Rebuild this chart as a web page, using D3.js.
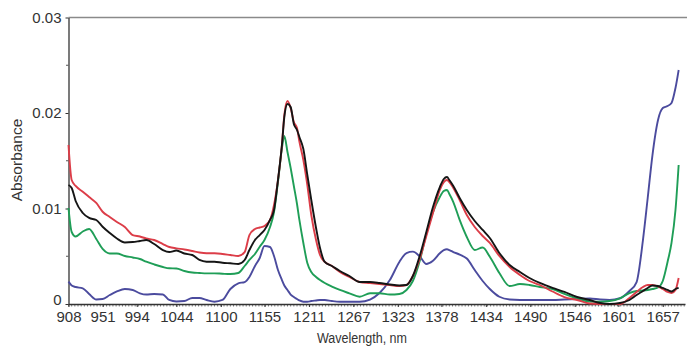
<!DOCTYPE html>
<html>
<head>
<meta charset="utf-8">
<script src="https://cdn.jsdelivr.net/npm/d3@7"></script>
<style>
  html, body { margin: 0; padding: 0; background: #fff; }
  svg { display: block; }
  text { font-family: "Liberation Sans", Arial, sans-serif; fill: #333; }
</style>
</head>
<body>
<svg id="chart" width="687" height="350"></svg>
<script>
// Wavelength (nm) sample points
const wavelengths = [908,912,917,926,934,943,951,960,969,979,989,998,1006,1016,1027,1035,1044,1054,1064,1073,1082,1092,1102,1112,1122,1130,1136,1143,1149,1155,1162,1167,1172,1177,1180,1184,1188,1192,1196,1199,1204,1209,1214,1220,1225,1231,1240,1250,1262,1275,1288,1300,1313,1325,1334,1342,1351,1359,1367,1376,1381,1385,1388,1393,1401,1410,1420,1430,1439,1451,1464,1477,1489,1502,1518,1533,1549,1565,1578,1590,1603,1615,1624,1632,1638,1644,1651,1657,1663,1668,1673,1677];

// Absorbance series (x 0.001)
const redValues = [16.65,12.98,12.36,11.76,11.20,10.58,9.66,9.11,8.59,8.06,7.22,7.07,6.86,6.70,6.28,5.97,5.83,5.71,5.55,5.39,5.31,5.31,5.24,5.13,5.03,5.44,7.22,7.85,8.01,8.17,8.80,10.37,12.98,16.65,19.79,21.26,20.52,19.06,18.43,17.00,15.08,12.46,9.32,6.70,5.13,4.40,3.98,3.35,2.83,2.30,2.20,2.09,1.99,1.88,1.99,2.93,4.82,7.12,9.42,11.94,12.77,12.98,12.77,12.15,10.89,9.32,8.06,7.12,6.39,5.03,3.87,3.04,2.41,1.99,1.31,0.73,0.42,0.05,0,0,0,0.63,1.26,1.78,1.99,1.99,1.83,1.57,1.26,1.15,1.47,2.72];
const blackValues = [12.46,12.15,10.79,9.53,9.01,8.80,8.09,7.43,6.86,6.44,6.49,6.60,6.70,6.28,5.65,5.44,5.60,5.29,5.13,4.61,4.43,4.43,4.32,4.26,4.19,4.61,5.65,6.70,7.22,7.75,8.80,9.84,12.98,16.65,19.58,20.94,20.63,18.85,18.22,17.49,16.23,13.51,10.89,7.96,5.86,4.40,3.98,3.46,2.93,2.30,2.30,2.20,2.04,1.94,1.99,2.93,5.13,7.54,10.05,12.25,13.09,13.30,12.98,12.36,11.10,9.84,8.69,7.75,6.91,5.34,4.08,3.35,2.72,2.20,1.68,1.26,0.73,0.42,0.10,0,0.10,0.42,0.94,1.36,1.68,1.94,1.88,1.68,1.47,1.31,1.57,1.68];
const greenValues = [10.05,7.54,7.07,7.59,7.85,6.81,5.76,5.29,5.29,5.03,4.87,4.71,4.43,4.14,3.87,3.74,3.72,3.46,3.30,3.25,3.21,3.21,3.17,3.14,3.25,3.98,4.61,5.24,6.00,6.70,8.06,9.63,12.77,16.33,17.59,15.92,14.24,12.36,10.47,8.80,6.39,4.29,3.35,2.83,2.51,2.20,1.83,1.47,1.12,0.76,1.12,1.12,0.99,1.05,1.47,2.41,4.61,7.33,9.53,11.20,11.83,11.94,11.52,10.68,8.80,7.02,5.65,5.92,4.95,3.25,1.88,2.09,1.99,1.78,1.57,1.05,0.58,0.26,0.24,0.31,0.60,1.15,1.36,1.41,1.47,1.57,1.73,2.41,4.40,6.39,9.84,14.56];
const blueValues = [2.34,1.94,1.78,1.64,1.05,0.47,0.52,0.94,1.31,1.57,1.47,1.12,0.99,1.05,0.99,0.42,0.26,0.31,0.63,0.63,0.42,0.24,0.42,1.57,2.17,2.30,2.83,3.98,4.82,6.07,5.97,5.03,3.56,2.51,1.94,1.47,0.99,0.73,0.52,0.37,0.24,0.24,0.31,0.37,0.42,0.42,0.31,0.24,0.24,0.24,0.47,1.15,2.51,4.40,5.34,5.48,4.95,4.19,4.50,5.31,5.65,5.73,5.65,5.44,5.18,4.76,3.56,2.41,1.57,0.76,0.47,0.42,0.42,0.42,0.42,0.47,0.52,0.58,0.47,0.42,0.60,1.36,2.30,6.70,11.10,15.60,19.27,20.52,20.73,21.05,22.62,24.50];

const xTickLabels = [908,951,994,1044,1100,1155,1211,1267,1323,1378,1434,1490,1546,1601,1657];
const yTickLabels = [0, 0.01, 0.02, 0.03];

const svg = d3.select("#chart");
const x = d3.scaleLinear().domain([908, 1685]).range([68.5, 685]);
const y = d3.scaleLinear().domain([0, 0.03]).range([304, 17.5]);

// top frame line
svg.append("line").attr("x1", 68.5).attr("x2", 687).attr("y1", 17.5).attr("y2", 17.5)
  .attr("stroke", "#8a8a8a").attr("stroke-width", 1.6);

// minor x ticks
const minor = d3.range(908, 1685, 4);
svg.append("g").selectAll("line").data(minor).join("line")
  .attr("x1", d => x(d)).attr("x2", d => x(d))
  .attr("y1", 304).attr("y2", 306.5)
  .attr("stroke", "#555").attr("stroke-width", 0.8);

// X axis
const xAxis = d3.axisBottom(x).tickValues(xTickLabels).tickFormat(d3.format("d"))
  .tickSize(3).tickSizeOuter(0).tickPadding(4);
const gx = svg.append("g").attr("transform", "translate(0,304)").call(xAxis);
gx.select(".domain").attr("stroke", "#333").attr("stroke-width", 1.3);
gx.selectAll(".tick line").attr("stroke", "#333");
gx.selectAll("text").style("font-size", "15px").attr("fill", "#333");

// Y axis
const yAxis = d3.axisLeft(y).tickValues(yTickLabels).tickFormat(d => d === 0 ? "0" : d3.format(".2f")(d))
  .tickSize(3).tickSizeOuter(0).tickPadding(4);
const gy = svg.append("g").attr("transform", "translate(68.5,0)").call(yAxis);
gy.select(".domain").attr("stroke", "#333").attr("stroke-width", 1.3);
gy.selectAll(".tick line").attr("stroke", "#333");
gy.selectAll("text").style("font-size", "15px").attr("fill", "#333");
gy.selectAll(".tick").filter(d => d === 0).select("text").attr("dy", "0.0em");
// minor y ticks
svg.append("g").selectAll("line").data([0.005, 0.015, 0.025]).join("line")
  .attr("x1", 68.5).attr("x2", 66).attr("y1", d => y(d)).attr("y2", d => y(d))
  .attr("stroke", "#555");

// lines
const series = [
  {vals: blueValues, color: "#4b4b9e"},
  {vals: greenValues, color: "#1f9e57"},
  {vals: redValues, color: "#dc3d48"},
  {vals: blackValues, color: "#151515"}
];
const line = d3.line().x(d => x(d[0])).y(d => y(d[1] / 1000)).curve(d3.curveMonotoneX);
series.forEach(s => {
  svg.append("path")
    .datum(wavelengths.map((w, i) => [w, s.vals[i]]))
    .attr("d", line)
    .attr("fill", "none")
    .attr("stroke", s.color)
    .attr("stroke-width", 1.9)
    .attr("stroke-linejoin", "round");
});

// axis titles
svg.append("text").attr("x", 362).attr("y", 343).attr("text-anchor", "middle")
  .attr("textLength", 90).attr("lengthAdjust", "spacingAndGlyphs")
  .style("font-size", "14px").text("Wavelength, nm");
svg.append("text").attr("transform", "translate(22,160) rotate(-90)").attr("text-anchor", "middle")
  .style("font-size", "15.5px").text("Absorbance");
</script>
</body>
</html>
